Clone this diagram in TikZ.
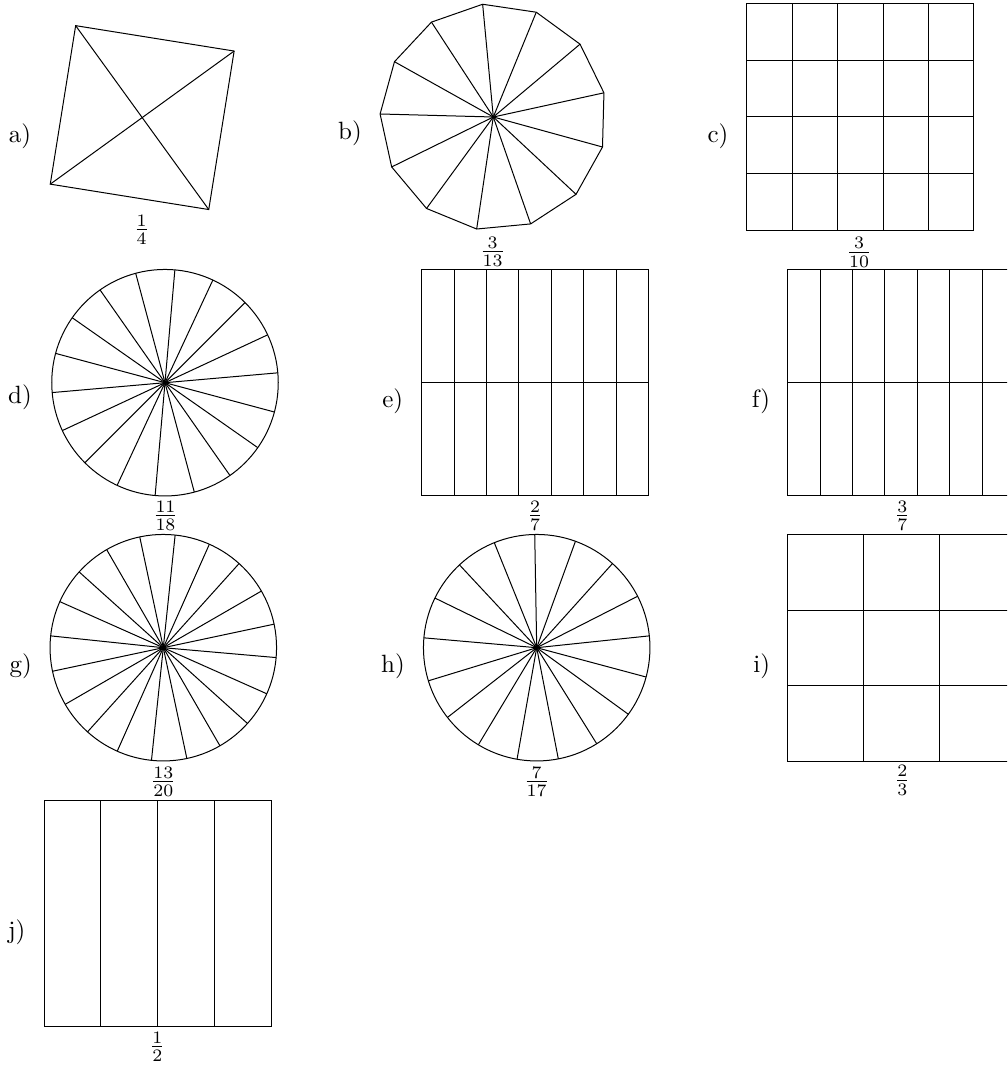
\documentclass[tikz,border=0pt]{standalone}
\usetikzlibrary{shapes.geometric,calc,positioning}

\begin{document}
\begin{tikzpicture}[
  x=0.4pt,y=-0.4pt,
  part/.style={draw,inner sep=0pt,outer sep=0pt,minimum size=90.6pt},
  wheel/.style={part,circle},
  poly/.style={part,regular polygon,regular polygon sides=#1},
  board/.style={part,rectangle,minimum width=90.8pt,minimum height=90.6pt},
  tag/.style={inner sep=0pt},
  frac/.style={inner sep=0pt}]
\useasboundingbox (0,0) rectangle (1007,1065);
\clip (0,0) rectangle (1007,1065);

% a) square cut along both diagonals
\node[poly=4,minimum size=90.8pt,shape border rotate=-9.1] (sqa) at (142.2,117.6) {};
\draw (sqa.corner 1) -- (sqa.corner 3);
\draw (sqa.corner 2) -- (sqa.corner 4);
\node[tag] (la) at (20,136) {a)};
\node[frac] (fa) at (141.7,229.7) {$\frac{1}{4}$};

% b) 13-gon
\node[poly=13,shape border rotate=5.4] (gonb) at (493.3,117) {};
\foreach \k in {1,...,13}
  \draw (gonb.center) -- (gonb.corner \k);
\node[tag] (lb) at (350,133) {b)};
\node[frac] (fb) at (492.7,251.7) {$\frac{3}{13}$};

% c) 5x4 grid
\node[board,minimum width=90.9pt,minimum height=90.4pt] (gridc) at (860.3,117) {};
\foreach \i in {1,...,4}
  \draw ($(gridc.south west)!\i/5!(gridc.south east)$) -- ($(gridc.north west)!\i/5!(gridc.north east)$);
\foreach \j in {1,...,3}
  \draw ($(gridc.south west)!\j/4!(gridc.north west)$) -- ($(gridc.south east)!\j/4!(gridc.north east)$);
\node[tag] (lc) at (718,136.7) {c)};
\node[frac] (fc) at (859,252.5) {$\frac{3}{10}$};

% d) circle, 18 parts
\node[wheel] (wheeld) at (165,382.7) {};
\foreach \k [evaluate=\k as \a using 5.8+20*\k] in {0,...,17}
  \draw (wheeld.center) -- (wheeld.\a);
\node[tag] (ld) at (20,397) {d)};
\node[frac] (fd) at (165.5,515.8) {$\frac{11}{18}$};

% e) 7x2 strips
\node[board] (bare) at (535.2,382.7) {};
\foreach \i in {1,...,6}
  \draw ($(bare.south west)!\i/7!(bare.south east)$) -- ($(bare.north west)!\i/7!(bare.north east)$);
\draw (bare.west) -- (bare.east);
\node[tag] (le) at (392.7,401.7) {e)};
\node[frac] (fe) at (535,515.8) {$\frac{2}{7}$};

% f) 7x2 strips, cut by the page edge
\node[board] (barf) at (901.2,382.7) {};
\foreach \i in {1,...,6}
  \draw ($(barf.south west)!\i/7!(barf.south east)$) -- ($(barf.north west)!\i/7!(barf.north east)$);
\draw (barf.west) -- (barf.east);
\node[tag] (lf) at (761,401.7) {f)};
\node[frac] (ff) at (902.3,515.8) {$\frac{3}{7}$};

% g) circle, 20 parts
\node[wheel] (wheelg) at (163.3,647.7) {};
\foreach \k [evaluate=\k as \a using -5.1+18*\k] in {0,...,19}
  \draw (wheelg.center) -- (wheelg.\a);
\node[tag] (lg) at (20.7,666.7) {g)};
\node[frac] (fg) at (163.3,781.7) {$\frac{13}{20}$};

% h) circle, 17 parts
\node[wheel] (wheelh) at (536.7,647.7) {};
\foreach \k [evaluate=\k as \a using 91.2+360/17*\k] in {0,...,16}
  \draw (wheelh.center) -- (wheelh.\a);
\node[tag] (lh) at (393,666.7) {h)};
\node[frac] (fh) at (536.7,781.7) {$\frac{7}{17}$};

% i) 3x3 grid
\node[board] (gridi) at (901.2,648.2) {};
\foreach \i in {1,2}{
  \draw ($(gridi.south west)!\i/3!(gridi.south east)$) -- ($(gridi.north west)!\i/3!(gridi.north east)$);
  \draw ($(gridi.south west)!\i/3!(gridi.north west)$) -- ($(gridi.south east)!\i/3!(gridi.north east)$);
}
\node[tag] (li) at (761.7,666.7) {i)};
\node[frac] (fi) at (902.3,780.5) {$\frac{2}{3}$};

% j) 4 strips
\node[board] (barj) at (157.7,913.3) {};
\foreach \i in {1,...,3}
  \draw ($(barj.south west)!\i/4!(barj.south east)$) -- ($(barj.north west)!\i/4!(barj.north east)$);
\node[tag] (lj) at (16.7,932.5) {j)};
\node[frac] (fj) at (157.3,1046.7) {$\frac{1}{2}$};
\end{tikzpicture}
\end{document}
